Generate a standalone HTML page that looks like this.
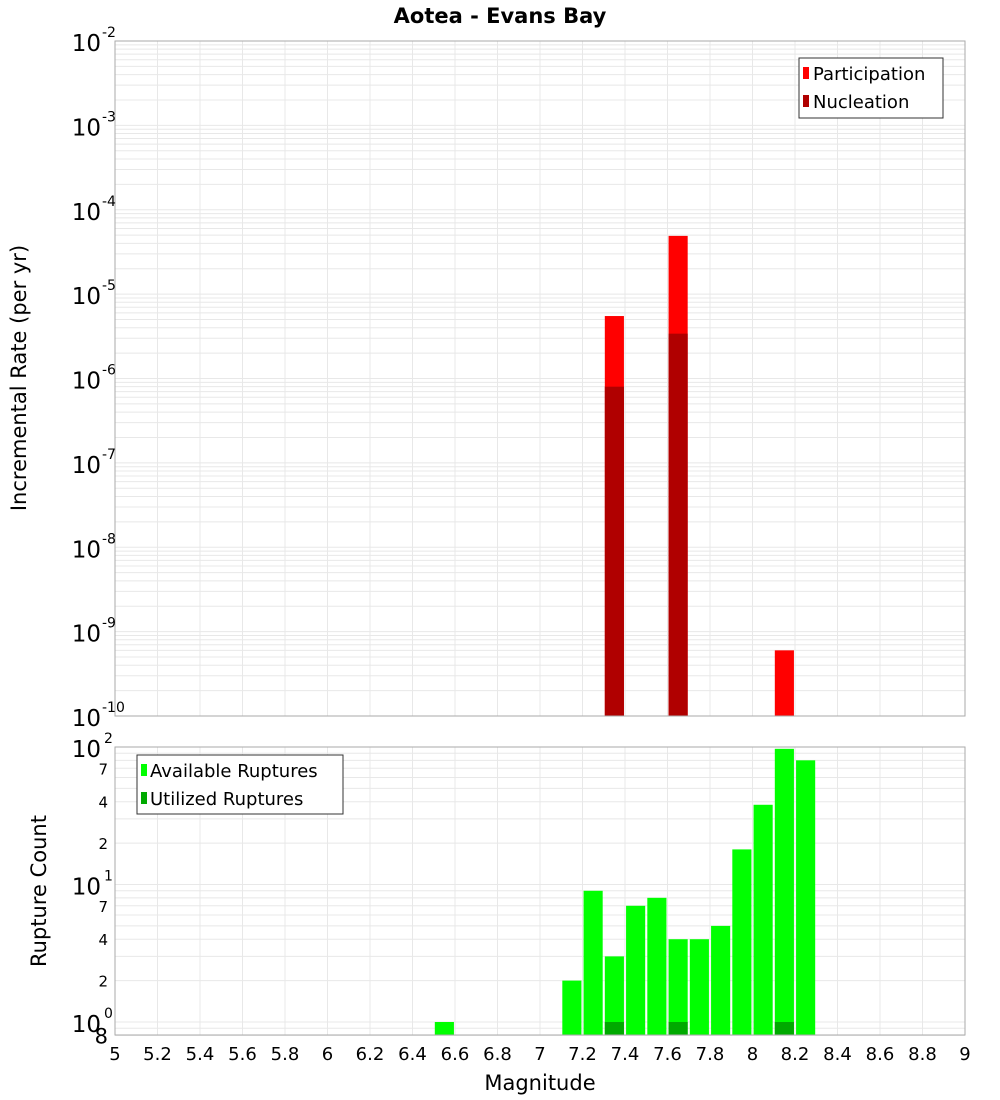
<!DOCTYPE html>
<html><head><meta charset="utf-8"><style>
html,body{margin:0;padding:0;background:#fff;}
svg{display:block;font-family:"DejaVu Sans","Liberation Sans",sans-serif;}
</style></head><body>
<svg id="chart" width="1000" height="1100" xmlns="http://www.w3.org/2000/svg">
<text x="500" y="23" text-anchor="middle" font-size="21" font-weight="bold">Aotea - Evans Bay</text>
<g id="topPanel"></g>
<g id="botPanel"></g>
<text transform="translate(26,378) rotate(-90)" text-anchor="middle" font-size="21">Incremental Rate (per yr)</text>
<text transform="translate(46,891) rotate(-90)" text-anchor="middle" font-size="21">Rupture Count</text>
<text x="540" y="1090" text-anchor="middle" font-size="21">Magnitude</text>
<g>
<rect x="799" y="58" width="144" height="60" fill="#fff" stroke="#333"/>
<rect x="803" y="67" width="6" height="12" fill="#ff0000"/>
<text x="813" y="80" font-size="18">Participation</text>
<rect x="803" y="95" width="6" height="12" fill="#b00000"/>
<text x="813" y="108" font-size="18">Nucleation</text>
</g>
<g>
<rect x="137" y="755" width="206" height="59" fill="#fff" stroke="#333"/>
<rect x="141" y="764" width="6" height="12" fill="#00ff00"/>
<text x="150" y="777" font-size="18">Available Ruptures</text>
<rect x="141" y="792" width="6" height="12" fill="#00aa00"/>
<text x="150" y="805" font-size="18">Utilized Ruptures</text>
</g>
</svg>
<script>
const rateMags=[7.35,7.65,8.15];
const participation=[5.5e-6,4.9e-5,6e-10];
const nucleation=[8e-7,3.4e-6,0];
const countMags=[6.55,7.15,7.25,7.35,7.45,7.55,7.65,7.75,7.85,7.95,8.05,8.15,8.25];
const available=[1,2,9,3,7,8,4,4,5,18,38,97,80];
const utilized=[0,0,0,1,0,0,1,0,0,0,0,1,0];
const xTicks=["5","5.2","5.4","5.6","5.8","6","6.2","6.4","6.6","6.8","7","7.2","7.4","7.6","7.8","8","8.2","8.4","8.6","8.8","9"];

const NS="http://www.w3.org/2000/svg";
const X0=115,X1=965;
const xs=m=>X0+(m-5)/4*(X1-X0);
const T0=41,T1=716, ty=v=>T1-(Math.log10(v)+10)/8*(T1-T0);
const B0=747,B1=1035, by=v=>1022-Math.log10(v)*137.5;
function mk(p,tag,a,txt){const e=document.createElementNS(NS,tag);for(const k in a)e.setAttribute(k,a[k]);if(txt!==undefined)e.textContent=txt;p.appendChild(e);return e;}
const topG=document.getElementById('topPanel'),botG=document.getElementById('botPanel');

function grid(g,y0,y1,yf,dlo,dhi){
  mk(g,'rect',{x:X0,y:y0,width:X1-X0,height:y1-y0,fill:'#fff'});
  for(const t of xTicks){const x=xs(+t);mk(g,'line',{x1:x,x2:x,y1:y0,y2:y1,stroke:'#e8e8e8'});}
  for(let d=dlo;d<=dhi;d++)for(let k=1;k<10;k++){const y=yf(k*Math.pow(10,d));if(y<y0-0.5||y>y1+0.5)continue;mk(g,'line',{x1:X0,x2:X1,y1:y,y2:y,stroke:'#e8e8e8'});}
}
grid(topG,T0,T1,ty,-10,-3);
grid(botG,B0,B1,by,-1,2);

rateMags.forEach((m,i)=>{
  const x=xs(m-0.045),w=xs(m+0.045)-x;
  if(participation[i]>0){const r=mk(topG,'rect',{x:x,y:ty(participation[i]),width:w,height:T1-ty(participation[i]),fill:'#ff0000'});
  
  }
  if(nucleation[i]>0){const r=mk(topG,'rect',{x:x,y:ty(nucleation[i]),width:w,height:T1-ty(nucleation[i]),fill:'#b00000'});
  
  }
});
countMags.forEach((m,i)=>{
  const x=xs(m-0.045),w=xs(m+0.045)-x;
  const r=mk(botG,'rect',{x:x,y:by(available[i]),width:w,height:B1-by(available[i]),fill:'#00ff00'});
  
  
  if(utilized[i]>0){const u=mk(botG,'rect',{x:x,y:by(utilized[i]),width:w,height:B1-by(utilized[i]),fill:'#00aa00'});
  
  }
});
mk(topG,'rect',{x:X0,y:T0,width:X1-X0,height:T1-T0,fill:'none',stroke:'#aaa'});
mk(botG,'rect',{x:X0,y:B0,width:X1-X0,height:B1-B0,fill:'none',stroke:'#aaa'});

for(let d=-10;d<=-2;d++){
  const y=ty(Math.pow(10,d));
  const t=mk(topG,'text',{x:101,y:y+10,'text-anchor':'end','font-size':23},'10');
  
  
  mk(topG,'text',{x:102,y:y-4,'font-size':14},String(d));
}
[2,1,0].forEach(d=>{
  const y=by(Math.pow(10,d));
  const t=mk(botG,'text',{x:101,y:y+10,'text-anchor':'end','font-size':23},'10');
  
  
  mk(botG,'text',{x:104,y:y-4,'font-size':14},String(d));
});
[2,4,7,20,40,70].forEach(v=>{mk(botG,'text',{x:108,y:by(v)+6,'text-anchor':'end','font-size':15},String(v)[0]);});
mk(botG,'text',{x:108,y:by(0.8)+8,'text-anchor':'end','font-size':21},'8');
xTicks.forEach(t=>{
  const e=mk(botG,'text',{x:xs(+t),y:1060,'text-anchor':'middle','font-size':18},t);
  
  
});
</script>
</body></html>
